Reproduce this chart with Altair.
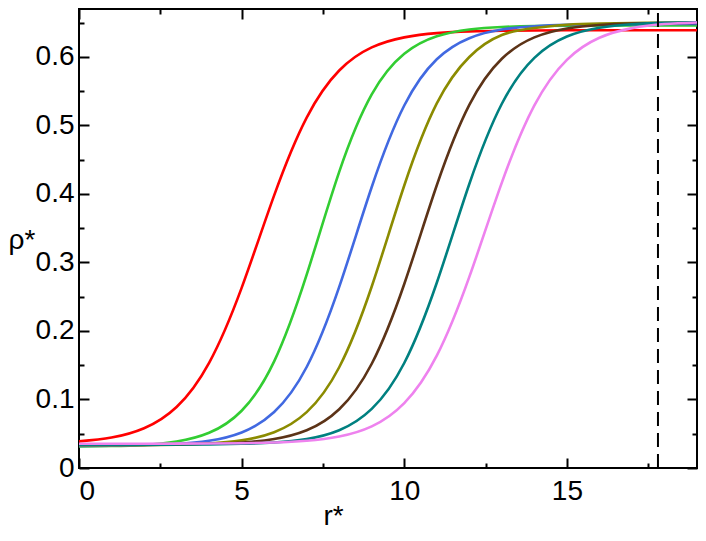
import altair as alt
import pandas as pd

r_vals = list(range(20))
names = ["c1", "c2", "c3", "c4", "c5", "c6", "c7"]
colors = ["#ff0000", "#32cd32", "#4169e1", "#8b8b00", "#5c3317", "#008080", "#ee82ee"]

red = [0.0389, 0.0445, 0.0581, 0.0891, 0.1536, 0.263, 0.398, 0.5115, 0.5802, 0.6139,
       0.6286, 0.6348, 0.6373, 0.6383, 0.6387, 0.6389, 0.639, 0.639, 0.639, 0.639]
green = [0.0314, 0.0321, 0.0338, 0.0387, 0.0514, 0.0836, 0.1556, 0.2822, 0.4323, 0.5453,
         0.6046, 0.6301, 0.6401, 0.6438, 0.6452, 0.6457, 0.6459, 0.646, 0.646, 0.646]
blue = [0.0322, 0.0324, 0.0331, 0.035, 0.0397, 0.0519, 0.0817, 0.1474, 0.2643, 0.4102,
        0.5291, 0.5966, 0.6274, 0.64, 0.6449, 0.6468, 0.6476, 0.6479, 0.648, 0.648]
olive = [0.0331, 0.0332, 0.0334, 0.0341, 0.0358, 0.0404, 0.0523, 0.0816, 0.1471, 0.2649,
         0.4124, 0.5322, 0.6, 0.632, 0.6423, 0.6471, 0.6489, 0.6496, 0.6498, 0.6499]
brown = [0.034, 0.0341, 0.0342, 0.0345, 0.0353, 0.0372, 0.0423, 0.055, 0.0857, 0.1522,
         0.2686, 0.4127, 0.53, 0.5973, 0.6286, 0.6416, 0.6467, 0.6487, 0.6495, 0.6498]
teal = [0.034, 0.034, 0.034, 0.0342, 0.0345, 0.0353, 0.0373, 0.0424, 0.0552, 0.0863,
        0.1533, 0.2704, 0.4146, 0.5317, 0.5987, 0.6298, 0.6426, 0.6477, 0.6497, 0.6505]
violet = [0.0355, 0.0355, 0.0355, 0.0356, 0.0358, 0.0362, 0.0372, 0.0397, 0.0459, 0.0607,
          0.0946, 0.1639, 0.2789, 0.4166, 0.5292, 0.5958, 0.628, 0.6421, 0.648, 0.6504]

dash_x = [17.8]

x_major = [0, 5, 10, 15]
x_minor = [2.5, 7.5, 12.5, 17.5]
y_major = [0, 0.1, 0.2, 0.3, 0.4, 0.5, 0.6]
y_minor = [0.05, 0.15, 0.25, 0.35, 0.45, 0.55, 0.65]

series = [red, green, blue, olive, brown, teal, violet]
rows = []
for name, vals in zip(names, series):
    for r, v in zip(r_vals, vals):
        rows.append({"r": r, "rho": v, "curve": name})
df = pd.DataFrame(rows)
df_dash = pd.DataFrame({"x": dash_x})

XDOM = [0, 19]
YDOM = [0, 0.67]
FONT = "Liberation Sans"


def ax(orient, values, size, labels=False, **kw):
    return alt.Axis(orient=orient, values=values, tickSize=size, offset=-size,
                    domain=False, labels=labels, grid=False, tickWidth=2,
                    tickColor="black", **kw)


color = alt.Color("curve:N", scale=alt.Scale(domain=names, range=colors), legend=None)


def lines(sel, xaxis, yaxis):
    return alt.Chart(df).transform_filter(
        alt.FieldOneOfPredicate(field="curve", oneOf=sel)
    ).mark_line(strokeWidth=2.6, interpolate="natural").encode(
        x=alt.X("r:Q", scale=alt.Scale(domain=XDOM, nice=False, zero=False), axis=xaxis),
        y=alt.Y("rho:Q", scale=alt.Scale(domain=YDOM, nice=False), axis=yaxis),
        color=color,
    )


l1 = lines(["c1", "c2"],
           ax("bottom", x_major, 10, labels=True, format="~g", labelPadding=9,
              title="r*", titleFontSize=28, titleX=254, titleAlign="center",
              titleY=66, titleBaseline="alphabetic"),
           ax("left", y_major, 10, labels=True, format="~g", labelPadding=5,
              title="ρ*", titleFontSize=28, titleAngle=0, titleAlign="left",
              titleBaseline="middle", titleX=-81, titleY=231))
l2 = lines(["c3", "c4", "c5"],
           ax("bottom", x_minor, 5, title=None),
           ax("left", y_minor, 5, title=None))
l3 = lines(["c6", "c7"],
           ax("top", x_major, 10, title=None),
           ax("right", y_major, 10, title=None))

l4 = alt.Chart(df_dash).mark_rule(color="black", strokeWidth=2, strokeDash=[14, 7]).encode(
    x=alt.X("x:Q", scale=alt.Scale(domain=XDOM, nice=False, zero=False),
            axis=ax("top", x_minor, 5, title=None)),
    y=alt.Y(datum=YDOM[0], scale=alt.Scale(domain=YDOM, nice=False),
            axis=ax("right", y_minor, 5, title=None)),
    y2=alt.Y2(datum=YDOM[1]),
)

chart = alt.layer(l1, l2, l3, l4).resolve_axis(
    x="independent", y="independent"
).properties(
    width=618, height=459,
    autosize=alt.AutoSizeParams(type="none"),
    padding={"left": 71, "top": 1, "right": 1, "bottom": 61},
).configure_view(
    stroke="black", strokeWidth=2
).configure_axis(
    labelFont=FONT, labelFontSize=28, labelColor="black",
    titleFont=FONT, titleFontWeight="normal", titleColor="black",
)

chart.save("out.html", embed_options={"renderer": "svg", "actions": False})
